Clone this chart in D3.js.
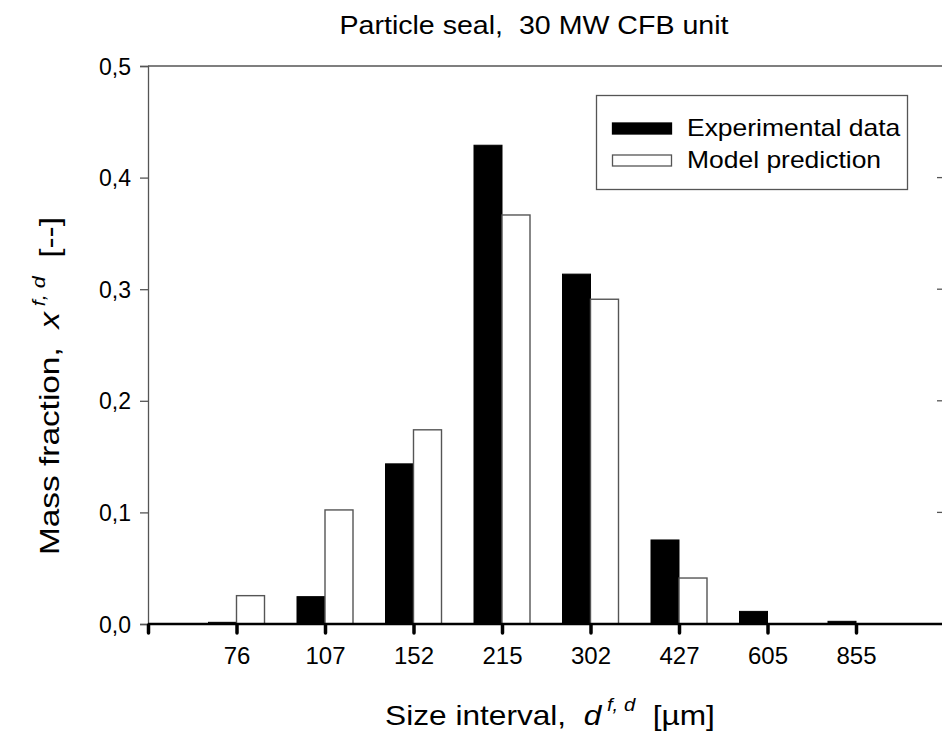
<!DOCTYPE html>
<html>
<head>
<meta charset="utf-8">
<script src="https://cdn.jsdelivr.net/npm/d3@7"></script>
<style>
  body { margin: 0; background: #fff; }
  text { font-family: "Liberation Sans", Arial, sans-serif; fill: #000; }
</style>
</head>
<body>
<svg id="svg" width="942" height="735"></svg>
<script>
// size intervals [um]
var sizes = ["76", "107", "152", "215", "302", "427", "605", "855"];
var experimental = [0.0015, 0.0245, 0.1435, 0.429, 0.3135, 0.0753, 0.0113, 0.0024];
var model = [0.0254, 0.1022, 0.174, 0.3665, 0.291, 0.0412, 0, 0];
var yTicks = [0, 0.1, 0.2, 0.3, 0.4, 0.5];
var seriesNames = ["Experimental data", "Model prediction"];

var svg = d3.select("#svg");
var mLeft = 148, mRight = 944.5, mTop = 66, mBottom = 624;
var barW = 28;

var x = d3.scaleLinear().domain([0, 9]).range([mLeft, mRight]);
var y = d3.scaleLinear().domain([0, 0.5]).range([mBottom, mTop]);

// stretch a text group horizontally so it spans w pixels
function fitWidth(g, w) {
    var bw = g.node().getBBox().width;
    var t = g.attr("transform") || "";
    g.attr("transform", t + " scale(" + (w / bw) + ",1)");
}

// frame: top line + left axis
svg.append("line")
    .attr("x1", mLeft).attr("x2", 942).attr("y1", mTop).attr("y2", mTop)
    .attr("stroke", "#555").attr("stroke-width", 1.3);

var yAxis = d3.axisLeft(y).tickValues(yTicks).tickSize(8).tickPadding(9)
    .tickFormat(function(d){ return d3.format(".1f")(d).replace(".", ","); });
var ga = svg.append("g").attr("transform", "translate(" + mLeft + ",0)").call(yAxis);
ga.select(".domain").attr("stroke", "#555").attr("stroke-width", 1.3);
ga.selectAll(".tick line").attr("stroke", "#555").attr("stroke-width", 1.3);
ga.selectAll(".tick text").style("font-size", "23px").attr("dy", "0.35em")
    .style("font-family", "Liberation Sans, Arial, sans-serif");

// right side ticks
svg.append("g").selectAll("line").data(yTicks.slice(1, 5)).join("line")
    .attr("x1", 937).attr("x2", 942)
    .attr("y1", function(d){ return y(d); }).attr("y2", function(d){ return y(d); })
    .attr("stroke", "#555").attr("stroke-width", 1.3);

// bars
var gb = svg.append("g");
gb.selectAll("rect.exp").data(experimental).join("rect")
    .attr("class", "exp")
    .attr("x", function(d, i){ return x(i + 1) - barW; })
    .attr("y", function(d){ return y(d); })
    .attr("width", barW)
    .attr("height", function(d){ return y(0) - y(d); })
    .attr("fill", "#000").attr("stroke", "#000").attr("stroke-width", 1);
gb.selectAll("rect.mod").data(model).join("rect")
    .attr("class", "mod")
    .attr("x", function(d, i){ return x(i + 1); })
    .attr("y", function(d){ return y(d); })
    .attr("width", barW)
    .attr("height", function(d){ return y(0) - y(d); })
    .attr("fill", "#fff").attr("stroke", "#555").attr("stroke-width", 1.4);

// bottom axis
var xAxis = d3.axisBottom(x).tickValues(d3.range(0, 9)).tickSize(10).tickPadding(13)
    .tickFormat(function(d){ return d == 0 ? "" : sizes[d - 1]; });
var gx = svg.append("g").attr("transform", "translate(0," + mBottom + ")").call(xAxis);
gx.select(".domain").remove();
gx.append("line").attr("x1", mLeft).attr("x2", 942).attr("y1", 0).attr("y2", 0)
    .attr("stroke", "#000").attr("stroke-width", 2.5);
gx.selectAll(".tick line").attr("stroke", "#000").attr("stroke-width", 3.5)
    .attr("stroke-linecap", "round").attr("y1", 1).attr("y2", 9);
gx.selectAll(".tick text").style("font-size", "24px")
    .style("font-family", "Liberation Sans, Arial, sans-serif");

// title
var gt = svg.append("g").attr("transform", "translate(534,34)");
gt.append("text").attr("text-anchor", "middle")
    .style("font-size", "26px").attr("xml:space", "preserve")
    .text("Particle seal,  30 MW CFB unit");
fitWidth(gt, 390);

// x title
var gxt = svg.append("g").attr("transform", "translate(550,725)");
var xt = gxt.append("text").attr("text-anchor", "middle")
    .style("font-size", "28px").attr("xml:space", "preserve");
xt.append("tspan").text("Size interval,  ");
xt.append("tspan").style("font-style", "italic").text("d");
xt.append("tspan").attr("dy", -14).style("font-size", "18px").style("font-style", "italic").text(" f, d");
xt.append("tspan").attr("dy", 14).text("  [\u00b5m]");
fitWidth(gxt, 330);

// y title
var gyt = svg.append("g").attr("transform", "translate(59,386) rotate(-90)");
var yt = gyt.append("text").attr("text-anchor", "middle")
    .style("font-size", "28px").attr("xml:space", "preserve");
yt.append("tspan").text("Mass fraction,  ");
yt.append("tspan").style("font-style", "italic").text("x");
yt.append("tspan").attr("dy", -14).style("font-size", "18px").style("font-style", "italic").text(" f, d");
yt.append("tspan").attr("dy", 14).text("  [--]");
fitWidth(gyt, 338);

// legend
var lg = svg.append("g");
lg.append("rect").attr("x", 596.5).attr("y", 95.5).attr("width", 311).attr("height", 94)
    .attr("fill", "#fff").attr("stroke", "#555").attr("stroke-width", 1.3);
var swatchFill = ["#000", "#fff"], swatchStroke = ["#000", "#555"];
lg.selectAll("rect.sw").data(seriesNames).join("rect").attr("class", "sw")
    .attr("x", 612.5).attr("y", function(d, i){ return 123 + i * 32; })
    .attr("width", 59).attr("height", 11)
    .attr("fill", function(d, i){ return swatchFill[i]; })
    .attr("stroke", function(d, i){ return swatchStroke[i]; }).attr("stroke-width", 1.3);
var lt = lg.append("g").attr("transform", "translate(687,0)");
lt.selectAll("text").data(seriesNames).join("text")
    .attr("x", 0).attr("y", function(d, i){ return 136 + i * 32; })
    .style("font-size", "24px").text(function(d){ return d; });
fitWidth(lt, 214);
</script>
</body>
</html>
